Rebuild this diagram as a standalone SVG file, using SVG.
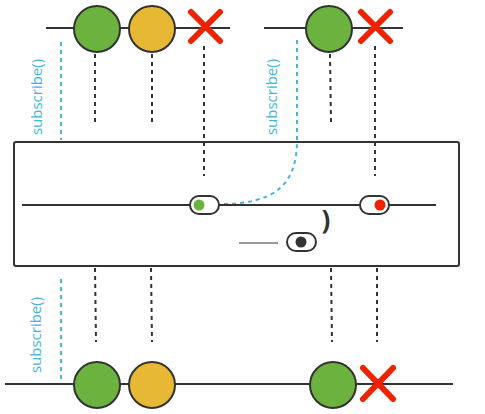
<svg xmlns="http://www.w3.org/2000/svg" width="485" height="414" viewBox="0 0 485 414">
<style>
.ln{stroke:#333;stroke-width:2;fill:none}
.dot{stroke:#333;stroke-width:2;stroke-dasharray:4 4;fill:none}
.blue{stroke:#45b5dd;stroke-width:2;stroke-dasharray:4 4;fill:none}
.g{fill:#6bb33e;stroke:#333;stroke-width:2}
.y{fill:#e7b834;stroke:#333;stroke-width:2}
.x{stroke:#ee2200;stroke-width:6;stroke-linecap:round;fill:none}
.pill{fill:#fff;stroke:#333;stroke-width:2}
.lbl{font-family:"Open Sans",sans-serif;font-size:15px;fill:#45b5dd}
</style>
<rect width="485" height="414" fill="#fff"/>
<g id="connectors">
<line class="ln" x1="46" y1="28" x2="230" y2="28"/>
<line class="ln" x1="264" y1="28" x2="403" y2="28"/>
<line class="dot" x1="95" y1="54" x2="95" y2="122"/>
<line class="dot" x1="152" y1="54" x2="152" y2="122"/>
<line class="dot" x1="204" y1="46" x2="204" y2="176"/>
<line class="dot" x1="330" y1="54" x2="331" y2="122"/>
<line class="dot" x1="375" y1="46" x2="375" y2="176"/>
<line class="blue" x1="61" y1="42" x2="61" y2="140"/>
<path class="blue" d="M297 40 L297 140 C297 185 275 204 220 204"/>
<line class="dot" x1="95" y1="268" x2="96" y2="342"/>
<line class="dot" x1="151" y1="268" x2="152" y2="342"/>
<line class="dot" x1="331" y1="268" x2="332" y2="342"/>
<line class="dot" x1="377" y1="268" x2="377" y2="342"/>
<line class="blue" x1="61" y1="279" x2="61" y2="384"/>
<line class="ln" x1="5" y1="384" x2="453" y2="384"/>
</g>
<g id="top1">
<circle class="g" cx="97" cy="29" r="23"/>
<circle class="y" cx="152" cy="29" r="23"/>
<path class="x" d="M191 12 L220 41 M220 12 L191 41"/>
</g>
<g id="top2">
<circle class="g" cx="329" cy="29" r="23"/>
<path class="x" d="M361 12 L390 41 M390 12 L361 41"/>
</g>
<text class="lbl" transform="translate(42 97) rotate(-90)" text-anchor="middle">subscribe()</text>
<text class="lbl" transform="translate(277 97) rotate(-90)" text-anchor="middle">subscribe()</text>
<g id="box">
<rect x="14" y="142" width="445" height="124" rx="2" fill="none" stroke="#333" stroke-width="2"/>
<line class="ln" x1="22" y1="205" x2="436" y2="205"/>
<rect class="pill" x="190" y="196" width="29" height="18" rx="9"/>
<circle cx="199" cy="205" r="5.5" fill="#6bb33e"/>
<rect class="pill" x="360" y="196" width="29" height="18" rx="9"/>
<circle cx="380" cy="205" r="5.5" fill="#ee2200"/>
<line x1="239" y1="243" x2="278" y2="243" stroke="#777" stroke-width="1.5"/>
<rect class="pill" x="287" y="233" width="29" height="18" rx="9"/>
<circle cx="301" cy="242" r="5.5" fill="#333"/>
<text x="326" y="229" font-family="'Open Sans',sans-serif" font-size="26" font-weight="bold" fill="#333" text-anchor="middle">)</text>
</g>
<text class="lbl" transform="translate(41 335) rotate(-90)" text-anchor="middle">subscribe()</text>
<g id="bottom">
<circle class="g" cx="97" cy="385" r="23"/>
<circle class="y" cx="152" cy="385" r="23"/>
<circle class="g" cx="333" cy="385" r="23"/>
<path class="x" d="M363 368 L393 399 M393 368 L363 399"/>
</g>
</svg>
